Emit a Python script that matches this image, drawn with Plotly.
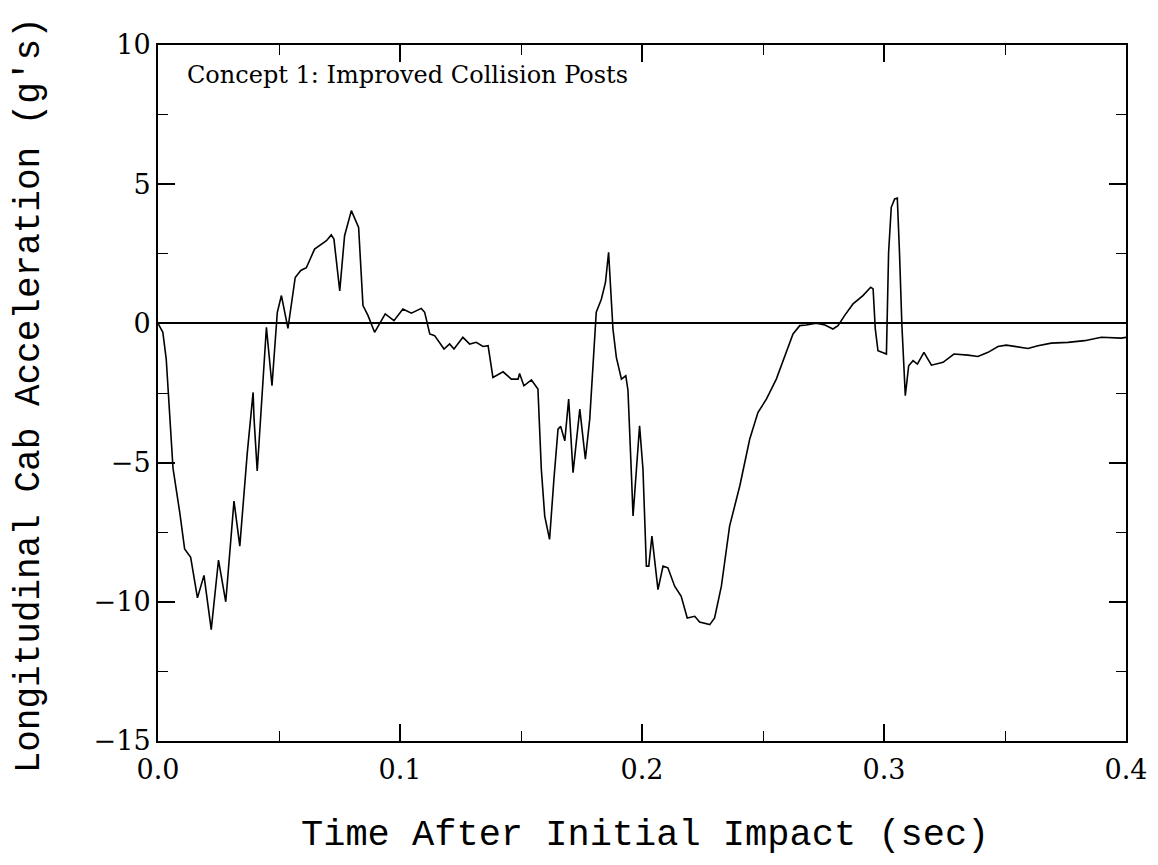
import plotly.graph_objects as go

time_s = [0, 0.002, 0.0034, 0.0048, 0.0062, 0.009, 0.011, 0.0135, 0.0163, 0.019,
          0.022, 0.025, 0.028, 0.0314, 0.0338, 0.0369, 0.0393, 0.0397, 0.041, 0.0448,
          0.0471, 0.0493, 0.051, 0.0537, 0.0567, 0.059, 0.0613, 0.0647, 0.0675, 0.0696,
          0.0716, 0.0727, 0.0751, 0.0771, 0.0799, 0.0829, 0.0847, 0.0868, 0.0895, 0.0915,
          0.0939, 0.0975, 0.1012, 0.1047, 0.1088, 0.1102, 0.1123, 0.1143, 0.1182, 0.1205,
          0.1223, 0.126, 0.1288, 0.1315, 0.1343, 0.1364, 0.1384, 0.1426, 0.146, 0.1488,
          0.1494, 0.1512, 0.1543, 0.157, 0.1584, 0.1598, 0.1618, 0.1636, 0.1653, 0.1664,
          0.1681, 0.1697, 0.1715, 0.1743, 0.1766, 0.1784, 0.1811, 0.1832, 0.1849, 0.1862,
          0.188, 0.1894, 0.1915, 0.1933, 0.1942, 0.1956, 0.1963, 0.1977, 0.199, 0.2004,
          0.2018, 0.2028, 0.2041, 0.2066, 0.2087, 0.2107, 0.2135, 0.2162, 0.2187, 0.2218,
          0.2238, 0.228, 0.23, 0.2328, 0.2362, 0.2404, 0.2445, 0.2479, 0.2514, 0.2555,
          0.259, 0.2624, 0.2652, 0.2679, 0.272, 0.2756, 0.2789, 0.281, 0.2837, 0.2872,
          0.2913, 0.2945, 0.2955, 0.2964, 0.2975, 0.2996, 0.301, 0.3019, 0.303, 0.3044,
          0.3055, 0.3064, 0.3074, 0.3088, 0.3102, 0.312, 0.3138, 0.3165, 0.3196, 0.3244,
          0.3289, 0.3347, 0.3388, 0.343, 0.3471, 0.3505, 0.3554, 0.3595, 0.3636, 0.3691,
          0.376, 0.3829, 0.3898, 0.398, 0.4]

accel_g = [0, -0.32, -1.28, -3.4, -5.2, -6.8, -8.1, -8.4, -9.86, -9.05,
           -11.0, -8.5, -10.0, -6.38, -8.0, -4.64, -2.48, -3.44, -5.3, -0.14,
           -2.24, 0.4, 1.0, -0.18, 1.65, 1.9, 2.0, 2.67, 2.85, 2.97,
           3.18, 3.03, 1.17, 3.15, 4.05, 3.45, 0.64, 0.28, -0.32, 0.0,
           0.34, 0.1, 0.52, 0.37, 0.54, 0.4, -0.38, -0.44, -0.92, -0.74,
           -0.92, -0.5, -0.74, -0.68, -0.83, -0.8, -1.94, -1.74, -2.0, -2.0,
           -1.8, -2.24, -2.03, -2.36, -5.24, -6.92, -7.76, -5.6, -3.8, -3.7,
           -4.22, -2.72, -5.36, -3.08, -4.88, -3.44, 0.4, 0.87, 1.47, 2.55,
           -0.2, -1.22, -2.0, -1.88, -2.4, -5.36, -6.92, -5.24, -3.68, -5.24,
           -8.72, -8.72, -7.64, -9.56, -8.72, -8.78, -9.44, -9.8, -10.58, -10.52,
           -10.73, -10.82, -10.58, -9.44, -7.28, -5.84, -4.16, -3.2, -2.72, -2.0,
           -1.16, -0.38, -0.08, -0.06, 0.01, -0.06, -0.2, -0.08, 0.28, 0.7,
           1.0, 1.3, 1.24, -0.2, -0.98, -1.04, -1.1, 2.55, 4.17, 4.47,
           4.5, 2.55, -0.08, -2.6, -1.52, -1.34, -1.46, -1.04, -1.5, -1.4,
           -1.1, -1.14, -1.19, -1.04, -0.83, -0.78, -0.86, -0.9, -0.8, -0.71,
           -0.68, -0.62, -0.5, -0.53, -0.5]

x_ticks = [0.0, 0.1, 0.2, 0.3, 0.4]
x_tick_labels = ["0.0", "0.1", "0.2", "0.3", "0.4"]
y_ticks = [-15, -10, -5, 0, 5, 10]

x_title = "Time After Initial Impact (sec)"
y_title = "Longitudinal Cab Acceleration (g's)"
note = "Concept 1: Improved Collision Posts"

SERIF = "DejaVu Serif"
WIDE = "Liberation Mono"

fig = go.Figure()
fig.add_trace(go.Scatter(x=time_s, y=accel_g, mode="lines",
                         line=dict(color="black", width=1.6),
                         showlegend=False, hoverinfo="x+y"))

axis_common = dict(showgrid=False, showline=True, linecolor="black", linewidth=2,
                   mirror="ticks", ticks="inside", tickcolor="black",
                   ticklen=17, tickwidth=1.5,
                   tickfont=dict(family=SERIF, size=27, color="black"))

fig.update_xaxes(range=[0, 0.4], tickvals=x_ticks, ticktext=x_tick_labels,
                 minor=dict(dtick=0.05, ticks="inside", ticklen=10, tickwidth=1.2,
                            tickcolor="black"),
                 zeroline=False, ticklabelstandoff=4,
                 **axis_common)
fig.update_yaxes(range=[-15, 10], tickvals=y_ticks,
                 minor=dict(dtick=2.5, ticks="inside", ticklen=10, tickwidth=1.2,
                            tickcolor="black"),
                 zeroline=True, zerolinecolor="black", zerolinewidth=2,
                 **axis_common)

# axis titles
fig.add_annotation(text=x_title, xref="paper", yref="paper", x=0.503, y=-0.135,
                   xanchor="center", yanchor="middle", showarrow=False,
                   font=dict(family=WIDE, size=37, color="black"))
fig.add_annotation(text=y_title, xref="paper", yref="paper", x=-0.133, y=0.497,
                   xanchor="center", yanchor="middle", textangle=-90, showarrow=False,
                   font=dict(family=WIDE, size=36, color="black"))

fig.add_annotation(text=note, xref="paper", yref="paper", x=0.028, y=0.957,
                   xanchor="left", yanchor="middle", showarrow=False,
                   font=dict(family=SERIF, size=24, color="black"))

fig.update_layout(width=1150, height=857,
                  margin=dict(l=150, r=32, t=37, b=124),
                  plot_bgcolor="white", paper_bgcolor="white")

fig.write_html("out.html")
